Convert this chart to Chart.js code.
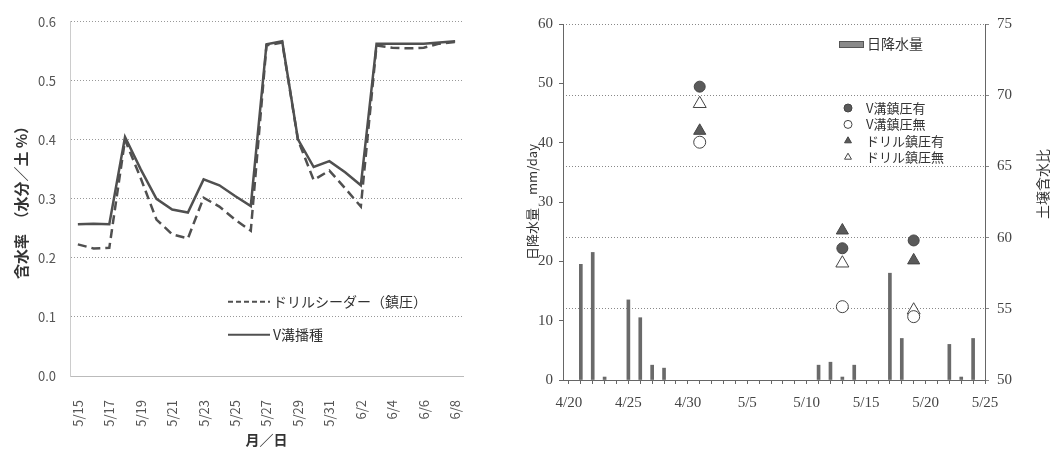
<!DOCTYPE html>
<html lang="ja">
<head>
<meta charset="utf-8">
<script src="https://cdn.jsdelivr.net/npm/chart.js@4"></script>
<style>
  body { margin: 0; background: #fff; }
  .panel { position: absolute; top: 0; height: 454px; }
  #left-panel { left: 0; width: 500px; }
  #right-panel { left: 510px; width: 542px; }
</style>
</head>
<body>
<div class="panel" id="left-panel"><canvas id="moisture-chart"></canvas></div>
<div class="panel" id="right-panel"><canvas id="rain-chart"></canvas></div>
<script>
// left panel: 含水率 by day
const moistureDates = ['5/15', '5/16', '5/17', '5/18', '5/19', '5/20', '5/21', '5/22', '5/23', '5/24', '5/25', '5/26', '5/27',
  '5/28', '5/29', '5/30', '5/31', '6/1', '6/2', '6/3', '6/4', '6/5', '6/6', '6/7', '6/8'];
const drillSeeder = [0.223, 0.216, 0.217, 0.400, 0.335, 0.265, 0.240, 0.233, 0.302, 0.287, 0.265, 0.246, 0.560,
  0.565, 0.400, 0.332, 0.348, 0.318, 0.287, 0.560, 0.556, 0.555, 0.556, 0.563, 0.566];
const vGroove = [0.257, 0.258, 0.257, 0.405, 0.350, 0.300, 0.282, 0.277, 0.333, 0.323, 0.305, 0.288, 0.562,
  0.567, 0.401, 0.354, 0.364, 0.345, 0.323, 0.563, 0.563, 0.563, 0.563, 0.565, 0.567];

// right panel: daily rain + soil moisture ratio
const rainTickLabels = ['4/20', '4/25', '4/30', '5/5', '5/10', '5/15', '5/20', '5/25'];
const rainDates = ['4/21', '4/22', '4/23', '4/25', '4/26', '4/27', '4/28', '5/11', '5/12', '5/13', '5/14', '5/17', '5/18', '5/22', '5/23', '5/24'];
const rainValues = [19.5, 21.5, 0.5, 13.5, 10.5, 2.5, 2.0, 2.5, 3.0, 0.5, 2.5, 18.0, 7.0, 6.0, 0.5, 7.0];
const sampleDates = ['5/1', '5/13', '5/19'];
const vPress = [70.6, 59.25, 59.8];
const vNoPress = [66.7, 55.15, 54.45];
const drillPress = [67.5, 60.5, 58.4];
const drillNoPress = [69.4, 58.2, 54.9];

const jpFont = "'Noto Sans CJK JP', 'Noto Sans', sans-serif";
const serifFont = "'Liberation Serif', 'DejaVu Serif', serif";

const dayOf = (label) => {
  const [m, d] = label.split('/').map(Number);
  return (Date.UTC(2000, m - 1, d) - Date.UTC(2000, 3, 20)) / 86400000;
};

Chart.defaults.animation = false;
Chart.defaults.plugins.legend.display = false;
Chart.defaults.plugins.tooltip.enabled = false;

const moistureLegend = {
  id: 'moistureLegend',
  afterDatasetsDraw(chart) {
    const { ctx, chartArea } = chart;
    const x = chartArea.left + 158;
    chart.data.datasets.forEach((ds, i) => {
      const y = chartArea.top + 280 + i * 33;
      ctx.save();
      ctx.strokeStyle = ds.borderColor;
      ctx.lineWidth = 2;
      ctx.setLineDash(ds.borderDash ? [5, 3] : []);
      ctx.beginPath();
      ctx.moveTo(x, y);
      ctx.lineTo(x + 42, y);
      ctx.stroke();
      ctx.setLineDash([]);
      ctx.fillStyle = '#333';
      ctx.font = '14px ' + jpFont;
      ctx.textBaseline = 'middle';
      ctx.fillText(ds.label, x + 45, y);
      ctx.restore();
    });
  },
};

new Chart(document.getElementById('moisture-chart'), {
  type: 'line',
  data: {
    labels: moistureDates,
    datasets: [
      { label: 'ドリルシーダー（鎮圧）', data: drillSeeder, borderColor: '#505050', borderWidth: 2.5, borderDash: [9, 5], pointRadius: 0, tension: 0 },
      { label: 'V溝播種', data: vGroove, borderColor: '#505050', borderWidth: 2.5, pointRadius: 0, tension: 0 },
    ],
  },
  options: {
    responsive: true,
    maintainAspectRatio: false,
    layout: { padding: { top: 15, right: 37, left: 0, bottom: 0 } },
    scales: {
      x: {
        offset: true,
        grid: { display: false },
        border: { display: true, color: '#bbb' },
        ticks: {
          autoSkip: false,
          minRotation: 90,
          maxRotation: 90,
          padding: 16,
          color: '#555',
          font: { size: 13, family: jpFont },
          callback(value, index) { return index % 2 === 0 ? this.getLabelForValue(value) : ''; },
        },
        title: { display: true, text: '月／日', color: '#333', font: { size: 14, weight: 'bold', family: jpFont }, padding: { top: 0, bottom: 6 } },
        afterFit: (scale) => { scale.height = 78; },
      },
      y: {
        min: 0,
        max: 0.6,
        ticks: { stepSize: 0.1, padding: 14, color: '#555', font: { size: 13, family: jpFont }, callback: (v) => Number(v).toFixed(1) },
        grid: { color: '#999', drawTicks: false },
        border: { display: true, color: '#ccc', dash: [1, 2] },
        title: { display: true, text: '含水率　（水分／土 %）', color: '#333', font: { size: 15, weight: 'bold', family: jpFont }, padding: { top: 12, bottom: 0 } },
        afterFit: (scale) => { scale.width = 70; },
      },
    },
  },
  plugins: [moistureLegend],
});

function drawMarker(ctx, style, filled, x, y, r) {
  ctx.beginPath();
  if (style === 'circle') {
    ctx.arc(x, y, r, 0, Math.PI * 2);
  } else {
    ctx.moveTo(x, y - r);
    ctx.lineTo(x + r * 0.866, y + r * 0.5);
    ctx.lineTo(x - r * 0.866, y + r * 0.5);
    ctx.closePath();
  }
  ctx.fillStyle = filled ? '#5a5a5a' : '#fff';
  ctx.strokeStyle = '#444';
  ctx.lineWidth = 1;
  ctx.fill();
  ctx.stroke();
}

const rainLegend = {
  id: 'rainLegend',
  afterDatasetsDraw(chart) {
    const { ctx, chartArea } = chart;
    const left = chartArea.left;
    const top = chartArea.top;
    ctx.save();
    ctx.font = '14px ' + jpFont;
    ctx.textBaseline = 'middle';
    // 日降水量 box
    ctx.fillStyle = '#8a8a8a';
    ctx.strokeStyle = '#555';
    ctx.lineWidth = 1;
    ctx.fillRect(left + 276, top + 17, 24, 6);
    ctx.strokeRect(left + 276.5, top + 17.5, 24, 6);
    ctx.fillStyle = '#333';
    ctx.fillText(chart.data.datasets[0].label, left + 304, top + 20);
    ctx.font = '13px ' + jpFont;
    chart.data.datasets.slice(1).forEach((ds, i) => {
      const y = top + 84 + i * 16.4;
      drawMarker(ctx, ds.pointStyle, ds.backgroundColor !== '#fff', left + 285, y, 4);
      ctx.fillStyle = '#333';
      ctx.fillText(ds.label, left + 303, y);
    });
    ctx.restore();
  },
  afterDraw(chart) {
    const { ctx, chartArea, scales } = chart;
    ctx.save();
    ctx.translate(scales.y2.right - 9, chartArea.top + 160);
    ctx.rotate(-Math.PI / 2);
    ctx.font = '14px ' + jpFont;
    ctx.fillStyle = '#333';
    ctx.textAlign = 'center';
    ctx.textBaseline = 'middle';
    ctx.fillText('土壌含水比', 0, 0);
    ctx.restore();
  },
};

const sampleSet = (label, values, style, filled, radius) => ({
  type: 'scatter',
  label,
  data: sampleDates.map((d, i) => ({ x: dayOf(d), y: values[i] })),
  yAxisID: 'y2',
  pointStyle: style,
  pointRadius: radius,
  backgroundColor: filled ? '#5a5a5a' : '#fff',
  borderColor: '#444',
  borderWidth: 1,
  order: 1,
});

new Chart(document.getElementById('rain-chart'), {
  type: 'bar',
  data: {
    datasets: [
      {
        type: 'bar',
        label: '日降水量',
        data: rainDates.map((d, i) => ({ x: dayOf(d), y: rainValues[i] })),
        backgroundColor: '#6a6a6a',
        barThickness: 3,
        yAxisID: 'y',
        order: 2,
      },
      sampleSet('V溝鎮圧有', vPress, 'circle', true, 5.5),
      sampleSet('V溝鎮圧無', vNoPress, 'circle', false, 6),
      sampleSet('ドリル鎮圧有', drillPress, 'triangle', true, 7),
      sampleSet('ドリル鎮圧無', drillNoPress, 'triangle', false, 7.5),
    ],
  },
  options: {
    responsive: true,
    maintainAspectRatio: false,
    layout: { padding: { top: 24, right: 0, left: 0, bottom: 0 } },
    scales: {
      x: {
        type: 'linear',
        min: -0.5,
        max: 35,
        offset: false,
        grid: { offset: false, drawOnChartArea: false, tickLength: 4, color: '#666' },
        border: { display: true, color: '#666' },
        ticks: {
          stepSize: 1,
          includeBounds: false,
          autoSkip: false,
          maxRotation: 0,
          padding: 10,
          color: '#444',
          font: { size: 15, family: serifFont },
          callback: (v) => rainTickLabels.find((t) => dayOf(t) === v) || '',
        },
        afterFit: (scale) => { scale.height = 74; },
      },
      y: {
        position: 'left',
        min: 0,
        max: 60,
        ticks: { stepSize: 10, padding: 6, color: '#444', font: { size: 15, family: serifFont } },
        grid: { drawOnChartArea: false, tickLength: 4, color: '#666' },
        border: { display: true, color: '#666' },
        title: { display: true, text: '日降水量　mm/day', color: '#333', font: { size: 13, family: jpFont }, padding: { top: 14, bottom: 0 } },
        afterFit: (scale) => { scale.width = 53; },
      },
      y2: {
        position: 'right',
        min: 50,
        max: 75,
        ticks: { stepSize: 5, padding: 8, color: '#444', font: { size: 15, family: serifFont } },
        grid: { drawOnChartArea: true, tickLength: 4, color: '#888' },
        border: { display: true, color: '#666', dash: [1, 2] },
        afterFit: (scale) => { scale.width = 67; },
      },
    },
  },
  plugins: [rainLegend],
});
</script>
</body>
</html>
